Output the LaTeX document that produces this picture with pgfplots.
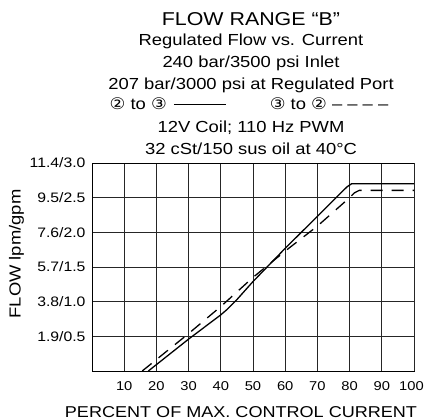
\documentclass[border=0pt]{standalone}
\usepackage{fontspec}
\setmainfont{Liberation Sans}[FakeStretch=1.15]
\newfontfamily\sym{DejaVu Sans}[FakeStretch=1.1]
\usepackage{pgfplots}
\pgfplotsset{compat=1.18}
\begin{document}
\begin{tikzpicture}
\useasboundingbox (-92bp,-49bp) rectangle (334bp,371bp);
\begin{axis}[
  at={(0,0)}, anchor=south west,
  scale only axis, width=322bp, height=208bp,
  xmin=0, xmax=100, ymin=0, ymax=3,
  xtick={10,20,...,90},
  extra x ticks={100},
  extra x tick style={xticklabel style={xshift=-2.5bp}},
  ytick={0.5,1,1.5,2,2.5,3},
  yticklabels={1.9/0.5,3.8/1.0,5.7/1.5,7.6/2.0,9.5/2.5,11.4/3.0},
  grid=major,
  major grid style={black!85, line width=0.7pt},
  major tick length=0pt,
  axis line style={black, line width=0.8pt},
  yticklabel style={font=\fontsize{13.7bp}{16bp}\selectfont, xshift=-3bp},
  xticklabel style={font=\fontsize{12.8bp}{15bp}\selectfont, /pgf/number format/assume math mode=true, yshift=-7.5bp},
  clip=false,
]
\addplot[black, line width=1.3pt] coordinates {
 (17.5,0) (30,0.46) (40,0.81) (42,0.89) (45,1.03) (50,1.29) (60,1.77) (70,2.23) (77.5,2.58) (79.3,2.66) (80.6,2.70) (100,2.70)};
\addplot[black, line width=1.3pt, dash pattern=on 12bp off 9bp] coordinates {
 (15.6,0) (30,0.54) (40,0.93) (50,1.35) (60,1.73) (70,2.09) (80,2.50) (81.5,2.57) (83,2.605) (100,2.605)};
\end{axis}
\begin{scope}[every node/.style={anchor=base, inner sep=0pt}]
\node at (159bp,345.3bp) {\fontsize{18.6bp}{20bp}\selectfont FLOW RANGE “B”};
\node at (159bp,325.3bp) {\fontsize{16bp}{18bp}\selectfont Regulated Flow vs. Current};
\node at (159bp,303.7bp) {\fontsize{16bp}{18bp}\selectfont 240 bar/3500 psi Inlet};
\node at (159bp,281.7bp) {\fontsize{16bp}{18bp}\selectfont 207 bar/3000 psi at Regulated Port};
\node at (157bp,261.7bp) {\fontsize{16bp}{18bp}\selectfont{\sym ②} to {\sym ③}\hspace{7bp}\rule[4.5bp]{52bp}{0.8bp}\hspace{44bp}{\sym ③} to {\sym ②} – – – –};
\node at (159bp,238.3bp) {\fontsize{16bp}{18bp}\selectfont 12V Coil; 110 Hz PWM};
\node at (159bp,216bp) {\fontsize{16bp}{18bp}\selectfont 32 cSt/150 sus oil at 40°C};
\node at (149bp,-46bp) {\fontsize{15.7bp}{18bp}\selectfont PERCENT OF MAX. CONTROL CURRENT};
\node[rotate=90] at (-71.3bp,117bp) {\fontsize{16bp}{18bp}\selectfont FLOW lpm/gpm};
\end{scope}
\end{tikzpicture}
\end{document}
